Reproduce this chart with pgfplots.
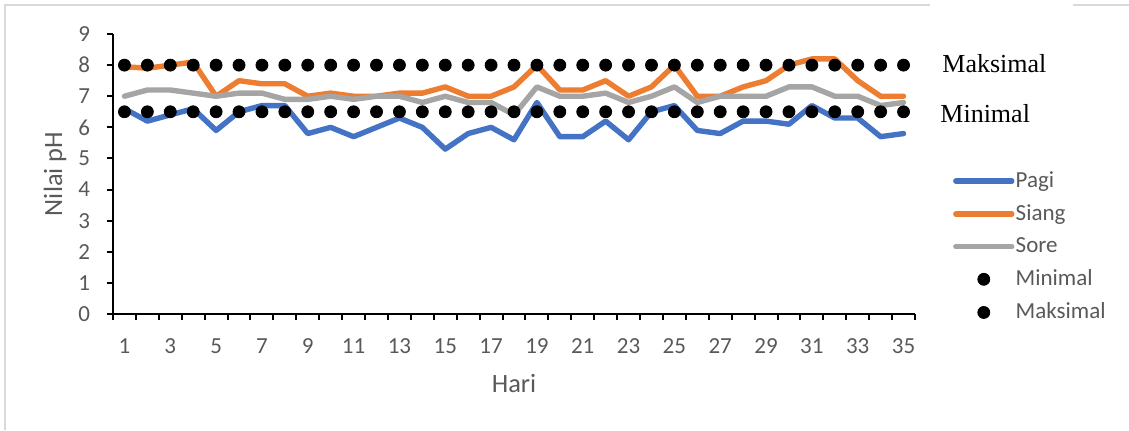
\documentclass[border=0pt]{standalone}
\usepackage{pgfplots}
\usepackage{pgfplotstable}
\pgfplotsset{compat=1.18}
\usepackage{fontspec}
\setmainfont{Carlito}
\newfontfamily\tnr{Liberation Serif}
\definecolor{pagi}{HTML}{4472C4}
\definecolor{siang}{HTML}{ED7D31}
\definecolor{sore}{HTML}{A5A5A5}
\definecolor{txt}{HTML}{595959}
\definecolor{brd}{HTML}{D9D9D9}

\pgfplotstableread{
day pagi siang sore mini maks
1 6.6 7.95 7.0 6.5 8
2 6.2 7.9 7.2 6.5 8
3 6.4 8.0 7.2 6.5 8
4 6.6 8.1 7.1 6.5 8
5 5.9 7.0 7.0 6.5 8
6 6.5 7.5 7.1 6.5 8
7 6.7 7.4 7.1 6.5 8
8 6.7 7.4 6.9 6.5 8
9 5.8 7.0 6.9 6.5 8
10 6.0 7.1 7.0 6.5 8
11 5.7 7.0 6.9 6.5 8
12 6.0 7.0 7.0 6.5 8
13 6.3 7.1 7.0 6.5 8
14 6.0 7.1 6.8 6.5 8
15 5.3 7.3 7.0 6.5 8
16 5.8 7.0 6.8 6.5 8
17 6.0 7.0 6.8 6.5 8
18 5.6 7.3 6.4 6.5 8
19 6.8 8.0 7.3 6.5 8
20 5.7 7.2 7.0 6.5 8
21 5.7 7.2 7.0 6.5 8
22 6.2 7.5 7.1 6.5 8
23 5.6 7.0 6.8 6.5 8
24 6.5 7.3 7.0 6.5 8
25 6.7 8.0 7.3 6.5 8
26 5.9 7.0 6.8 6.5 8
27 5.8 7.0 7.0 6.5 8
28 6.2 7.3 7.0 6.5 8
29 6.2 7.5 7.0 6.5 8
30 6.1 8.0 7.3 6.5 8
31 6.7 8.2 7.3 6.5 8
32 6.3 8.2 7.0 6.5 8
33 6.3 7.5 7.0 6.5 8
34 5.7 7.0 6.7 6.5 8
35 5.8 7.0 6.8 6.5 8
}\ph

\begin{document}
\begin{tikzpicture}
\useasboundingbox (0,0) rectangle (564.5pt,215pt);
\draw[brd, line width=1pt] (2.5pt,0) -- (2.5pt,212.5pt) -- (564.5pt,212.5pt);
\fill[white] (465pt,208pt) rectangle (536.5pt,216pt);
\begin{axis}[
  at={(56.5pt,58pt)}, anchor=south west,
  scale only axis, width=401pt, height=140pt,
  xmin=0.5, xmax=35.5, ymin=0, ymax=9,
  axis x line=bottom, axis y line=left,
  axis line style={-, black, line width=1pt},
  tick align=outside,
  xtick={1,3,...,35},
  minor xtick={0.5,1.5,...,35.5},
  ytick={0,1,...,9},
  every major x tick/.append style={draw=none},
  major tick length=3pt, minor tick length=3pt,
  tick style={black, line width=1pt},
  /pgf/number format/assume math mode=true,
  tick label style={font=\fontsize{11.5}{13.8}\selectfont, text=txt},
  xticklabel style={yshift=-6pt},
  yticklabel style={xshift=-5pt},
  xlabel={Hari}, ylabel={Nilai pH},
  every axis x label/.style={at={(axis description cs:0.5,-0.25)}, anchor=center,
    font=\fontsize{13.2}{15.8}\selectfont, text=txt},
  every axis y label/.style={at={(axis description cs:-0.0723,0.5)}, rotate=90, anchor=center,
    font=\fontsize{13.2}{15.8}\selectfont, text=txt},
  legend style={at={(1.047,0.24)}, anchor=west, draw=none, fill=none,
    font=\fontsize{11.5}{13.8}\selectfont, text=txt, row sep=5.9pt, inner sep=0pt,
    nodes={inner sep=0.6pt}},
  legend cell align=left,
  legend image code/.code={\draw[mark repeat=2,mark phase=2,#1] plot coordinates {(0pt,0pt)(14pt,0pt)(28pt,0pt)};},
  clip=false,
]
\addplot[pagi, line width=2.7pt, line join=round, line cap=round] table[x=day,y=pagi] {\ph};
\addlegendentry{Pagi}
\addplot[siang, line width=2.7pt, line join=round, line cap=round] table[x=day,y=siang] {\ph};
\addlegendentry{Siang}
\addplot[sore, line width=2.7pt, line join=round, line cap=round] table[x=day,y=sore] {\ph};
\addlegendentry{Sore}
\addplot[only marks, mark=*, mark size=3pt, black] table[x=day,y=mini] {\ph};
\addlegendentry{Minimal}
\addplot[only marks, mark=*, mark size=3pt, black] table[x=day,y=maks] {\ph};
\addlegendentry{Maksimal}
\end{axis}
\node[anchor=base west, inner sep=0pt, font=\tnr\fontsize{13}{15.6}\selectfont] at (471pt,179pt) {Maksimal};
\node[anchor=base west, inner sep=0pt, font=\tnr\fontsize{13}{15.6}\selectfont] at (470pt,154pt) {Minimal};
\end{tikzpicture}
\end{document}
